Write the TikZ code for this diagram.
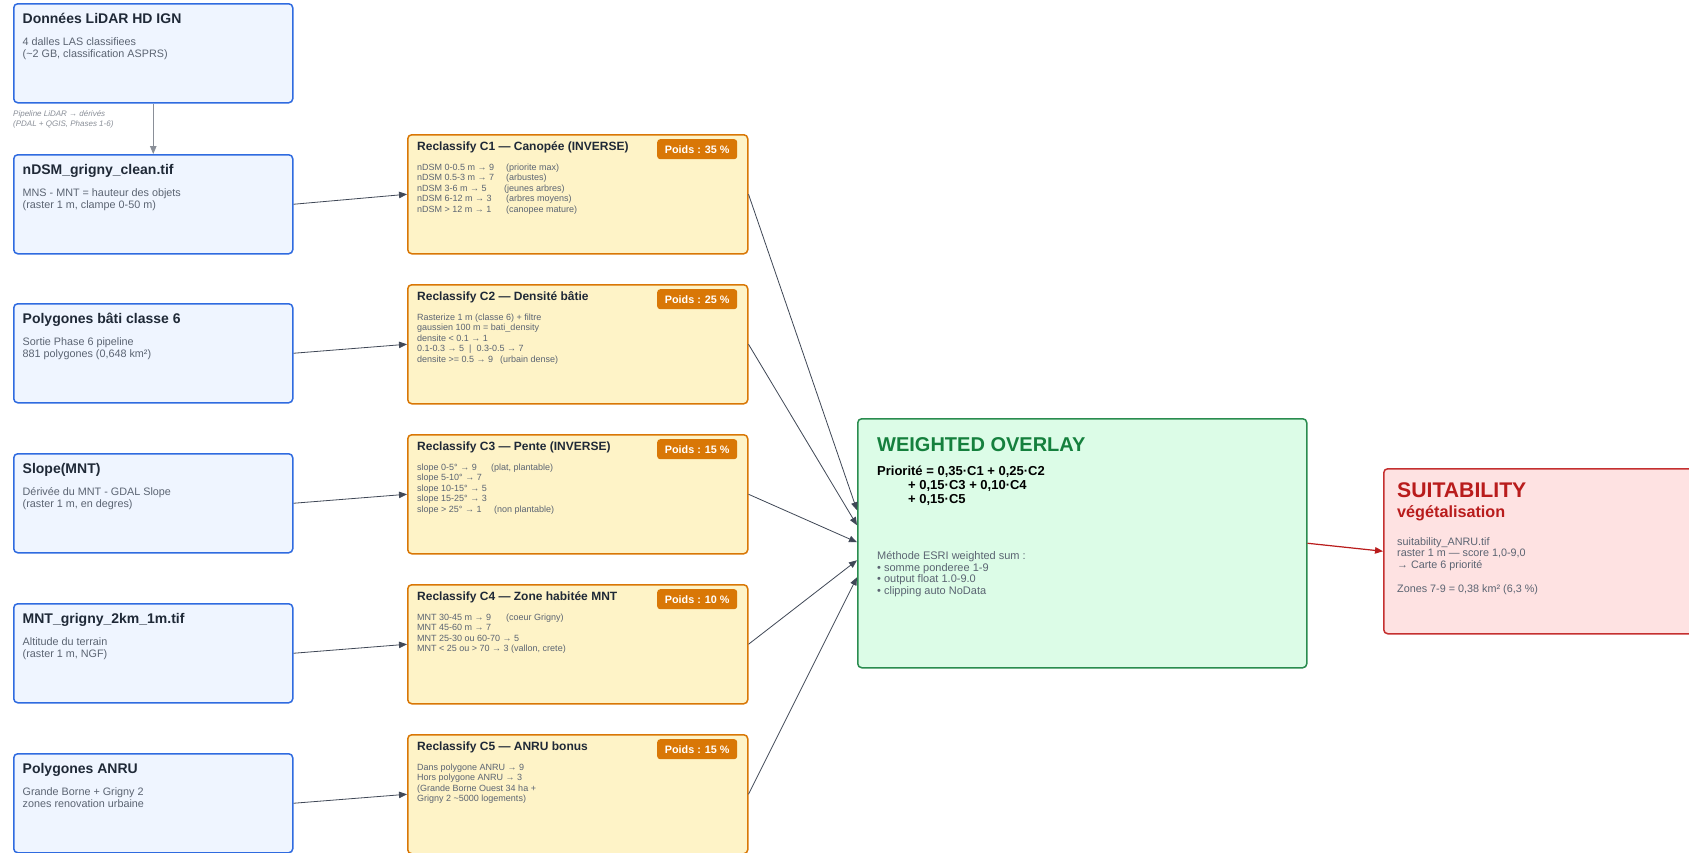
\documentclass[tikz,border=0pt]{standalone}
\usepackage{fontspec}
\setmainfont{Liberation Sans}
\usetikzlibrary{arrows.meta,calc}
\definecolor{blueB}{HTML}{2F6BE0}
\definecolor{blueF}{HTML}{EFF5FF}
\definecolor{orB}{HTML}{D97706}
\definecolor{orF}{HTML}{FEF3C7}
\definecolor{grB}{HTML}{2A8C4F}
\definecolor{grF}{HTML}{DCFCE7}
\definecolor{grT}{HTML}{15803D}
\definecolor{rdB}{HTML}{C53030}
\definecolor{rdF}{HTML}{FEE2E2}
\definecolor{rdT}{HTML}{B91C1C}
\definecolor{ttl}{HTML}{1F2937}
\definecolor{bdy}{HTML}{5B6472}
\definecolor{arrc}{HTML}{3F4756}
\definecolor{pipe}{HTML}{8A8F98}
\tikzset{
  box/.style={rounded corners=4pt, line width=1.5pt, inner sep=0pt, anchor=north west},
  lbox/.style={box, draw=blueB, fill=blueF, minimum width=279pt, minimum height=99pt},
  mbox/.style={box, draw=orB, fill=orF, minimum width=340pt, minimum height=119pt},
  wbox/.style={box, draw=grB, fill=grF, minimum width=449pt, minimum height=249pt},
  sbox/.style={box, draw=rdB, fill=rdF, minimum width=330pt, minimum height=165pt},
  ltitle/.style={anchor=base west, inner sep=0pt, text=ttl, font=\fontsize{14}{16}\selectfont\bfseries},
  lbody/.style={anchor=north west, inner sep=0pt, align=left, text=bdy, font=\fontsize{10.8}{11.7}\selectfont},
  mtitle/.style={anchor=base west, inner sep=0pt, text=ttl, font=\fontsize{12}{14}\selectfont\bfseries},
  mbody/.style={anchor=north west, inner sep=0pt, align=left, text=bdy, font=\fontsize{9}{10.5}\selectfont},
  badge/.style={fill=orB, rounded corners=3pt, minimum width=80pt, minimum height=20pt, inner sep=0pt, anchor=north west, text=white, font=\fontsize{10.8}{12}\selectfont\bfseries},
  arr/.style={-{Triangle[length=8pt,width=6.5pt]}, draw=arrc, line width=0.8pt},
}
\begin{document}
\begin{tikzpicture}[x=1pt,y=-1pt]
\useasboundingbox (0,0) rectangle (1689,852);
\clip (0,0) rectangle (1689,852);
\fill[white] (0,0) rectangle (1689,852);

% left column
\node[lbox] (b1) at (13,3) {};
\node[lbox] (b2) at (13,154) {};
\node[lbox] (b3) at (13,303) {};
\node[lbox] (b4) at (13,453) {};
\node[lbox] (b5) at (13,603) {};
\node[lbox] (b6) at (13,753) {};

\node[ltitle] (t1) at ($(b1.north west)+(9.5,20)$) {Données LiDAR HD IGN};
\node[lbody] (d1) at ($(b1.north west)+(9.5,34.7)$) {4 dalles LAS classifiees\\(\textasciitilde 2 GB, classification ASPRS)};
\node[ltitle] (t2) at ($(b2.north west)+(9.5,20)$) {nDSM\_grigny\_clean.tif};
\node[lbody] (d2) at ($(b2.north west)+(9.5,34.7)$) {MNS - MNT = hauteur des objets\\(raster 1 m, clampe 0-50 m)};
\node[ltitle] (t3) at ($(b3.north west)+(9.5,20)$) {Polygones bâti classe 6};
\node[lbody] (d3) at ($(b3.north west)+(9.5,34.7)$) {Sortie Phase 6 pipeline\\881 polygones (0,648 km²)};
\node[ltitle] (t4) at ($(b4.north west)+(9.5,20)$) {Slope(MNT)};
\node[lbody] (d4) at ($(b4.north west)+(9.5,34.7)$) {Dérivée du MNT - GDAL Slope\\(raster 1 m, en degres)};
\node[ltitle] (t5) at ($(b5.north west)+(9.5,20)$) {MNT\_grigny\_2km\_1m.tif};
\node[lbody] (d5) at ($(b5.north west)+(9.5,34.7)$) {Altitude du terrain\\(raster 1 m, NGF)};
\node[ltitle] (t6) at ($(b6.north west)+(9.5,20)$) {Polygones ANRU};
\node[lbody] (d6) at ($(b6.north west)+(9.5,34.7)$) {Grande Borne + Grigny 2\\zones renovation urbaine};

\node[anchor=north west, inner sep=0pt, align=left, text=pipe, font=\fontsize{8}{10}\selectfont\itshape] (pl) at (13,110) {Pipeline LiDAR → dérivés\\(PDAL + QGIS, Phases 1-6)};
\draw[-{Triangle[length=8pt,width=6.5pt]}, draw=pipe, line width=0.9pt] (b1.south) -- (b2.north);

% middle column
\node[mbox] (c1) at (407,134) {};
\node[mbox] (c2) at (407,284) {};
\node[mbox] (c3) at (407,434) {};
\node[mbox] (c4) at (407,584) {};
\node[mbox] (c5) at (407,734) {};

\node[mtitle] (ct1) at ($(c1.north west)+(10,16.3)$) {Reclassify C1 — Canopée (INVERSE)};
\node[badge] (p1) at ($(c1.north west)+(250,5)$) {Poids : 35 \%};
\node[mbody] (cb1) at ($(c1.north west)+(10,29.6)$) {\makebox[89pt][l]{nDSM 0-0.5 m → 9}(priorite max)\\\makebox[89pt][l]{nDSM 0.5-3 m → 7}(arbustes)\\\makebox[87pt][l]{nDSM 3-6 m → 5}(jeunes arbres)\\\makebox[89pt][l]{nDSM 6-12 m → 3}(arbres moyens)\\\makebox[89pt][l]{nDSM > 12 m → 1}(canopee mature)};

\node[mtitle] (ct2) at ($(c2.north west)+(10,16.3)$) {Reclassify C2 — Densité bâtie};
\node[badge] (p2) at ($(c2.north west)+(250,5)$) {Poids : 25 \%};
\node[mbody] (cb2) at ($(c2.north west)+(10,29.6)$) {Rasterize 1 m (classe 6) + filtre\\gaussien 100 m = bati\_density\\densite < 0.1 → 1\\0.1-0.3 → 5\ \ |\ \ 0.3-0.5 → 7\\\makebox[83pt][l]{densite >= 0.5 → 9}(urbain dense)};

\node[mtitle] (ct3) at ($(c3.north west)+(10,16.3)$) {Reclassify C3 — Pente (INVERSE)};
\node[badge] (p3) at ($(c3.north west)+(250,5)$) {Poids : 15 \%};
\node[mbody] (cb3) at ($(c3.north west)+(10,29.6)$) {\makebox[74pt][l]{slope 0-5° → 9}(plat, plantable)\\slope 5-10° → 7\\slope 10-15° → 5\\slope 15-25° → 3\\\makebox[77pt][l]{slope > 25° → 1}(non plantable)};

\node[mtitle] (ct4) at ($(c4.north west)+(10,16.3)$) {Reclassify C4 — Zone habitée MNT};
\node[badge] (p4) at ($(c4.north west)+(250,5)$) {Poids : 10 \%};
\node[mbody] (cb4) at ($(c4.north west)+(10,29.6)$) {\makebox[89pt][l]{MNT 30-45 m → 9}(coeur Grigny)\\MNT 45-60 m → 7\\MNT 25-30 ou 60-70 → 5\\MNT < 25 ou > 70 → 3 (vallon, crete)};

\node[mtitle] (ct5) at ($(c5.north west)+(10,16.3)$) {Reclassify C5 — ANRU bonus};
\node[badge] (p5) at ($(c5.north west)+(250,5)$) {Poids : 15 \%};
\node[mbody] (cb5) at ($(c5.north west)+(10,29.6)$) {Dans polygone ANRU → 9\\Hors polygone ANRU → 3\\(Grande Borne Ouest 34 ha +\\Grigny 2 \textasciitilde 5000 logements)};

% weighted overlay
\node[wbox] (w) at (857,418) {};
\node[anchor=base west, inner sep=0pt, text=grT, font=\fontsize{20}{22}\selectfont\bfseries] (wt) at ($(w.north west)+(20,33.2)$) {WEIGHTED OVERLAY};
\node[anchor=north west, inner sep=0pt, align=left, text=black, font=\fontsize{13}{14}\selectfont\bfseries] (wf) at ($(w.north west)+(20,48.2)$) {Priorité = 0,35·C1 + 0,25·C2\\\hspace*{31pt}+ 0,15·C3 + 0,10·C4\\\hspace*{31pt}+ 0,15·C5};
\node[anchor=north west, inner sep=0pt, align=left, text=bdy, font=\fontsize{11}{11.7}\selectfont] (wb) at ($(w.north west)+(20,133)$) {Méthode ESRI weighted sum :\\• somme ponderee 1-9\\• output float 1.0-9.0\\• clipping auto NoData};

% suitability
\node[sbox] (s) at (1383,468) {};
\node[anchor=base west, inner sep=0pt, text=rdT, font=\fontsize{21.2}{23}\selectfont\bfseries] (st) at ($(s.north west)+(14,29.6)$) {SUITABILITY};
\node[anchor=base west, inner sep=0pt, text=rdT, font=\fontsize{16.2}{18}\selectfont\bfseries] (sv) at ($(s.north west)+(14,49.5)$) {végétalisation};
\node[anchor=north west, inner sep=0pt, align=left, text=bdy, font=\fontsize{10.8}{11.5}\selectfont] (sb) at ($(s.north west)+(14,69)$) {suitability\_ANRU.tif\\raster 1 m — score 1,0-9,0\\→ Carte 6 priorité};
\node[anchor=base west, inner sep=0pt, text=bdy, font=\fontsize{10.8}{11.5}\selectfont] (sz) at ($(s.north west)+(14,124)$) {Zones 7-9 = 0,38 km² (6,3 \%)};

% connectors
\draw[arr] (b2.east) -- (c1.west);
\draw[arr] (b3.east) -- (c2.west);
\draw[arr] (b4.east) -- (c3.west);
\draw[arr] (b5.east) -- (c4.west);
\draw[arr] (b6.east) -- (c5.west);

\draw[arr] (c1.east) -- ($(w.west)+(0,-33)$);
\draw[arr] (c2.east) -- ($(w.west)+(0,-18)$);
\draw[arr] (c3.east) -- ($(w.west)+(0,-1)$);
\draw[arr] (c4.east) -- ($(w.west)+(0,17)$);
\draw[arr] (c5.east) -- ($(w.west)+(0,34)$);

\draw[-{Triangle[length=8pt,width=6.5pt]}, draw=rdT, fill=rdT, line width=1.2pt] (w.east) -- (s.west);
\end{tikzpicture}
\end{document}
